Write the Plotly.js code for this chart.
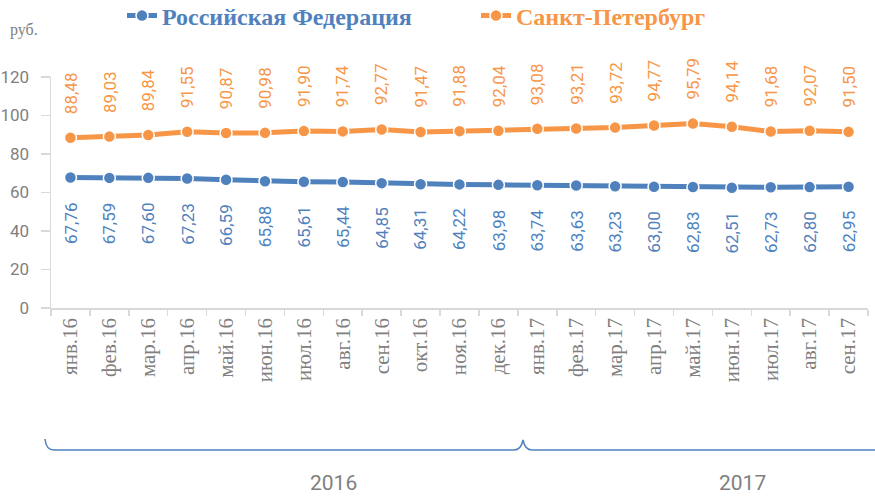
<!DOCTYPE html>
<html>
<head>
<meta charset="utf-8">
<script src="https://cdn.plot.ly/plotly-3.0.1.min.js"></script>
<style>html,body{margin:0;padding:0;background:#fff;}#chart{width:875px;height:499px;}</style>
</head>
<body>
<div id="chart"></div>
<script>
const months = ["янв.16","фев.16","мар.16","апр.16","май.16","июн.16","июл.16","авг.16","сен.16","окт.16","ноя.16","дек.16",
                "янв.17","фев.17","мар.17","апр.17","май.17","июн.17","июл.17","авг.17","сен.17"];
const rfValues = [67.76,67.59,67.60,67.23,66.59,65.88,65.61,65.44,64.85,64.31,64.22,63.98,
                  63.74,63.63,63.23,63.00,62.83,62.51,62.73,62.80,62.95];
const spbValues = [88.48,89.03,89.84,91.55,90.87,90.98,91.90,91.74,92.77,91.47,91.88,92.04,
                   93.08,93.21,93.72,94.77,95.79,94.14,91.68,92.07,91.50];
const seriesNames = ["Российская Федерация","Санкт-Петербург"];
const years = ["2016","2017"];
const yTicks = [0,20,40,60,80,100,120];

const BLUE = "#4f81bd", ORANGE = "#f79646", GRAY = "#7f7f7f", AXIS = "#d9d9d9";
const NARROW = "Roboto, Liberation Sans, sans-serif";
const SERIF = "Liberation Serif, Times New Roman, serif";

const fmt = v => v.toFixed(2).replace(".", ",");

const traces = [
  {x: months, y: rfValues, name: seriesNames[0], type: "scatter", mode: "lines+markers",
   line: {color: BLUE, width: 5}, marker: {color: BLUE, size: 12, line: {color: "#fff", width: 1.5}},
   legend: "legend", hoverinfo: "x+y"},
  {x: months, y: spbValues, name: seriesNames[1], type: "scatter", mode: "lines+markers",
   line: {color: ORANGE, width: 5}, marker: {color: ORANGE, size: 12, line: {color: "#fff", width: 1.5}},
   legend: "legend2", hoverinfo: "x+y"}
];

// plot area geometry (pixels) used only for decoration placement
const L = 51, R = 868, T = 77, B = 308;
const px = v => (v - L) / (R - L);
const py = v => (B - v) / (B - T);

const annotations = [];
months.forEach((m, i) => {
  annotations.push({x: m, y: spbValues[i], xref: "x", yref: "y", text: fmt(spbValues[i]),
    textangle: -90, showarrow: false, xanchor: "center", yanchor: "bottom", yshift: 22,
    font: {family: NARROW, size: 17, color: ORANGE}});
  annotations.push({x: m, y: rfValues[i], xref: "x", yref: "y", text: fmt(rfValues[i]),
    textangle: -90, showarrow: false, xanchor: "center", yanchor: "top", yshift: -22,
    font: {family: NARROW, size: 17, color: BLUE}});
});
annotations.push({x: px(8), y: py(30), xref: "paper", yref: "paper", text: "руб.", showarrow: false,
  xanchor: "left", yanchor: "middle", font: {family: SERIF, size: 16, color: GRAY}});
annotations.push({x: px(333), y: py(483), xref: "paper", yref: "paper", text: years[0], showarrow: false,
  xanchor: "center", yanchor: "middle", font: {family: NARROW, size: 21, color: GRAY}});
annotations.push({x: px(742), y: py(483), xref: "paper", yref: "paper", text: years[1], showarrow: false,
  xanchor: "center", yanchor: "middle", font: {family: NARROW, size: 21, color: GRAY}});

function P(x, y) { return px(x).toFixed(5) + "," + py(y).toFixed(5); }
const bracePath =
  "M" + P(45, 439) + " Q" + P(46, 450) + " " + P(54, 450) +
  " L" + P(514, 450) + " Q" + P(521, 450) + " " + P(523, 440) +
  " Q" + P(525, 450) + " " + P(532, 450) + " L" + P(880, 450);

const layout = {
  width: 875, height: 499,
  margin: {l: L, r: 875 - R, t: T, b: 499 - B, pad: 0, autoexpand: false},
  paper_bgcolor: "#fff", plot_bgcolor: "#fff",
  showlegend: true,
  legend: {orientation: "h", x: px(122), y: py(16), xanchor: "left", yanchor: "middle",
    font: {family: SERIF, size: 24, color: BLUE, weight: "bold"}, bgcolor: "rgba(0,0,0,0)"},
  legend2: {orientation: "h", x: px(476), y: py(16), xanchor: "left", yanchor: "middle",
    font: {family: SERIF, size: 24, color: ORANGE, weight: "bold"}, bgcolor: "rgba(0,0,0,0)"},
  xaxis: {type: "category", range: [-0.5, months.length - 0.5], showgrid: false, zeroline: false,
    showline: true, linecolor: AXIS, linewidth: 1.5, ticks: "outside", tickson: "boundaries",
    ticklen: 6, tickcolor: AXIS, tickwidth: 1.5, tickangle: -90, automargin: false,
    tickfont: {family: SERIF, size: 21, color: GRAY}, fixedrange: true},
  yaxis: {range: [0, 120], tickvals: yTicks, showgrid: false, zeroline: false,
    showline: true, linecolor: AXIS, linewidth: 1.5, ticks: "outside", ticklen: 9,
    tickcolor: AXIS, tickwidth: 1.5, ticklabelstandoff: 8, automargin: false,
    tickfont: {family: NARROW, size: 17, color: GRAY}, fixedrange: true},
  annotations: annotations,
  shapes: [{type: "path", xref: "paper", yref: "paper", path: bracePath,
    line: {color: BLUE, width: 1.5}, fillcolor: "rgba(0,0,0,0)", layer: "above"}]
};

Plotly.newPlot("chart", traces, layout, {displayModeBar: false, staticPlot: true});
</script>
</body>
</html>
